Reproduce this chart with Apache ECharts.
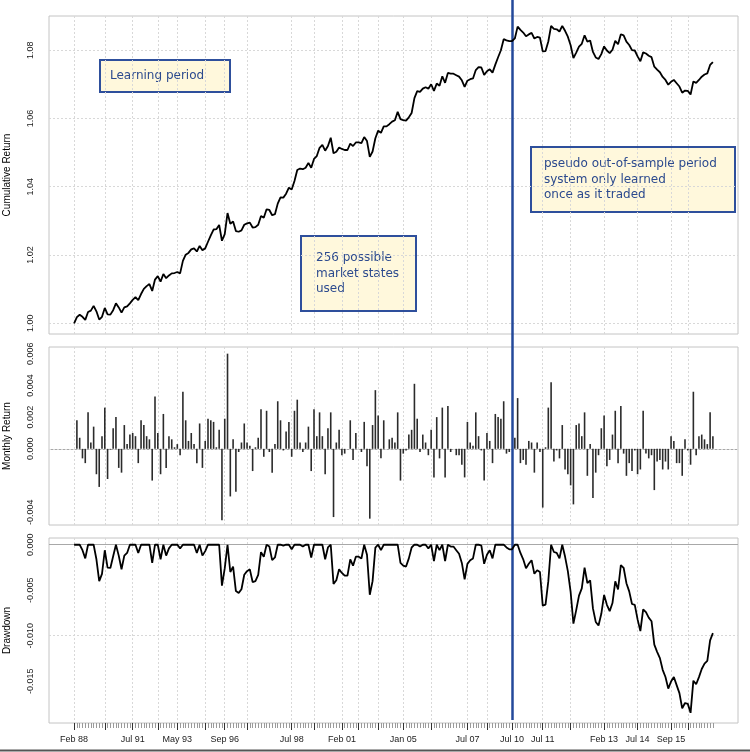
<!DOCTYPE html>
<html><head><meta charset="utf-8">
<script src="https://cdn.jsdelivr.net/npm/echarts@6/dist/echarts.min.js"></script>
<style>html,body{margin:0;padding:0;background:#fff}#c{width:750px;height:752px}</style>
</head><body><div id="c"></div>
<script>
// ---- data ----
const startWealth = 1.0; // wealth index value before the first monthly return (Feb 88)
const monthlyReturns = [
 0.0018,0.0007,-0.0006,-0.0009,0.0023,0.0004,0.0014,-0.0016,-0.0024,0.0008,
 0.0026,-0.0019,-0.00005,0.0013,0.0020,-0.0012,-0.0015,0.0015,0.0003,0.0009,
 0.0010,0.0008,-0.0009,0.0018,0.0015,0.0008,0.0006,-0.0020,0.0033,0.0010,
 -0.0016,0.0022,-0.0012,0.0008,0.0006,0.0001,0.0003,-0.0004,0.0036,0.0018,
 0.0005,0.0010,0.0003,-0.0009,0.0016,-0.0012,0.0005,0.0019,0.0018,0.0017,
 0.0001,0.0012,-0.0045,0.0019,0.0060,-0.0030,0.0006,-0.0027,-0.0002,0.0004,
 0.0016,0.0004,0.0002,-0.0014,0.0001,0.0007,0.0025,-0.0005,0.0024,-0.0002,
 -0.0015,0.0003,0.0030,0.0018,-0.0001,0.0011,0.0017,-0.0005,0.0024,0.0031,
 0.0004,-0.0002,0.0004,0.0014,-0.0014,0.0025,0.0008,0.0023,0.0008,-0.0016,
 0.0013,0.0023,-0.0043,0.0004,0.0012,-0.0004,-0.0003,0.0000,0.0018,-0.0007,
 0.0010,0.0000,-0.0002,0.0017,-0.0011,-0.0044,0.0015,0.0037,0.0021,
 -0.0006,0.0018,0.0000,0.0006,0.0007,0.0004,0.0023,-0.0020,-0.0003,-0.0001,
 0.0009,0.0012,0.0041,0.0019,-0.0002,0.0009,0.0004,-0.0004,0.0012,-0.0018,
 0.0020,-0.0006,0.0026,-0.0018,0.0027,-0.0002,0.0000,-0.0004,-0.0004,-0.0010,
 -0.0018,0.0017,0.0004,0.0002,0.0023,0.0008,-0.0001,-0.0020,0.0010,0.0005,
 -0.0009,0.0022,0.0020,0.0019,0.0030,-0.0003,-0.0002,0.0000,0.0007,0.0032,
 -0.0009,-0.0007,-0.0010,0.0005,0.0004,-0.0015,0.0004,-0.0002,-0.0037,0.0001,
 0.0026,0.0042,-0.0008,-0.0001,-0.0006,0.0015,-0.0013,-0.0016,-0.0023,-0.0035,
 0.0015,0.0016,0.0008,0.0023,-0.0017,0.0003,-0.0031,-0.0015,-0.0004,0.0013,
 0.0021,-0.0011,-0.0007,0.0009,0.0024,-0.0009,0.0027,-0.0003,-0.0017,-0.0009,
 -0.0014,-0.0001,-0.0016,-0.0013,0.0024,-0.0003,-0.0006,-0.0004,-0.0026,-0.0008,
 -0.0007,-0.0013,-0.0008,-0.0013,0.0008,0.0005,-0.0009,-0.0009,-0.0017,0.0006,
 -0.0001,-0.0010,0.0036,-0.0004,0.0008,0.0009,0.0006,0.0003,0.0023,0.0008
];
// observation positions (0 = Feb 88 start point) of the date ticks
const tickLabels = ['Feb 88','Jul 91','May 93','Sep 96','Jul 98','Feb 01','Jan 05','Jul 07','Jul 10','Jul 11','Feb 13','Jul 14','Sep 15'];
const tickObs    = [0,21,37,54,78,96,118,141,157,168,190,202,214];
const unlabeledMajorObs = [11,30,47,62,86,102,109,128,148,178,220];
const splitObs = 157; // Jul 10, start of out-of-sample period
const cumTicks = [1.00,1.02,1.04,1.06,1.08];
const retGrid = [-0.004,-0.002,0,0.002,0.004,0.006];
const retLabels = [-0.004,0,0.002,0.004,0.006];
const ddTicks = [-0.015,-0.010,-0.005,0];
const notes = [
  ['Learning period'],
  ['256 possible','market states','used'],
  ['pseudo out-of-sample period','system only learned','once as it traded']
];

// ---- derived series (wealth index and drawdown from the returns) ----
const cum = [startWealth], dd = [0], bars = [null];
let w = startWealth, pk = startWealth;
monthlyReturns.forEach(r => { w *= (1 + r); pk = Math.max(pk, w); cum.push(w); dd.push(w / pk - 1); bars.push(r); });
const NOBS = cum.length;

const PAD = 9;
const cats = [];
for (let i = 0; i < PAD; i++) cats.push('L' + i);
for (let i = 0; i < NOBS; i++) cats.push('o' + i);
for (let i = 0; i < PAD; i++) cats.push('R' + i);
const pad = Array(PAD).fill(null);
const labelMap = {}; tickObs.forEach((o, k) => labelMap[o] = tickLabels[k]);
const majorSet = new Set(tickObs.concat(unlabeledMajorObs));
const isObs = i => i >= PAD && i < PAD + NOBS;
const isMajor = i => isObs(i) && majorSet.has(i - PAD);

const GL = 49, GR = 12;
const grids = [
  {left: GL, right: GR, top: 16, height: 318},
  {left: GL, right: GR, top: 347, height: 178},
  {left: GL, right: GR, top: 538, height: 185},
  {left: GL, right: GR, top: 0, height: 720}
].map((g, k) => Object.assign({show: k < 3, borderColor: '#c4c4c4', borderWidth: 1, backgroundColor: 'transparent',
  containLabel: false, outerBoundsMode: 'none'}, g));

const gridLineStyle = {color: '#d8d8d8', type: [2, 2], width: 1};
function baseX(gi) {
  return {type: 'category', gridIndex: gi, data: cats, boundaryGap: false,
    axisLine: {show: false}, axisTick: {show: false}, axisLabel: {show: false},
    splitLine: {show: gi < 3, interval: (i) => isMajor(i), lineStyle: gridLineStyle}};
}
const xAxes = [baseX(0), baseX(1), baseX(2), Object.assign(baseX(3), {show: false})];
xAxes.push({type: 'category', gridIndex: 2, data: cats, boundaryGap: false, position: 'bottom',
  axisLine: {show: false}, splitLine: {show: false}, axisLabel: {show: false},
  axisTick: {show: true, length: 5, interval: (i) => isObs(i), lineStyle: {color: '#9a9a9a', width: 1}}});
xAxes.push({type: 'category', gridIndex: 2, data: cats, boundaryGap: false, position: 'bottom',
  axisLine: {show: false}, splitLine: {show: false},
  axisTick: {show: true, length: 7, interval: (i) => isMajor(i), lineStyle: {color: '#333', width: 1}},
  axisLabel: {show: true, interval: (i) => isObs(i) && labelMap[i - PAD] !== undefined,
    formatter: (v) => { const o = +v.slice(1); return v[0] === 'o' && labelMap[o] !== undefined ? labelMap[o] : ''; },
    fontSize: 9, color: '#222', margin: 12, fontFamily: 'Liberation Sans'}});

function yAx(gi, min, max, labels, digits, name) {
  return {type: 'value', gridIndex: gi, min: min, max: max, scale: true,
    name: name, nameLocation: 'middle', nameGap: 37, nameRotate: 90,
    nameTextStyle: {fontSize: 10, color: '#000', fontFamily: 'Liberation Sans'},
    axisLine: {show: false}, splitLine: {show: false},
    axisTick: {show: false, customValues: labels},
    axisLabel: {customValues: labels, rotate: 90, fontSize: 9, color: '#222', margin: 14,
      fontFamily: 'Liberation Sans', formatter: (v) => Number(v).toFixed(digits)}};
}
const yAxes = [
  yAx(0, 0.99686, 1.0900, cumTicks, 2, 'Cumulative Return'),
  yAx(1, -0.0048, 0.00642, retLabels, 3, 'Monthly Return'),
  yAx(2, -0.0196, 0.00074, ddTicks, 3, 'Drawdown'),
  {type: 'value', gridIndex: 3, min: 0, max: 1, show: false}
];

function gridMarks(vals, zeroLine) {
  const data = vals.map(v => ({yAxis: v, lineStyle: (zeroLine && v === 0) ? {color: '#a8a8a8', type: 'solid', width: 1} : gridLineStyle}));
  return {silent: true, symbol: ['none', 'none'], label: {show: false}, animation: false, data: data};
}

const series = [
  {type: 'line', xAxisIndex: 0, yAxisIndex: 0, data: pad.concat(cum, pad), showSymbol: false, symbol: 'none',
   lineStyle: {color: '#000', width: 1.8}, z: 5, markLine: gridMarks(cumTicks, false)},
  {type: 'bar', xAxisIndex: 1, yAxisIndex: 1, data: pad.concat(bars, pad), barWidth: 1.6,
   itemStyle: {color: '#2b2b2b'}, z: 5, markLine: gridMarks(retGrid, true)},
  {type: 'line', xAxisIndex: 2, yAxisIndex: 2, data: pad.concat(dd, pad), showSymbol: false, symbol: 'none',
   lineStyle: {color: '#000', width: 1.8}, z: 5, markLine: gridMarks(ddTicks, true)},
  {type: 'line', xAxisIndex: 3, yAxisIndex: 3, data: [], z: 20,
   markLine: {silent: true, symbol: ['none', 'none'], label: {show: false}, animation: false,
     lineStyle: {color: '#23499a', width: 2.5, type: 'solid'}, data: [{xAxis: 'o' + splitObs}]}}
];

function noteBox(x, y, w, h, tx, lines) {
  return {type: 'group', z: 30, children: [
    {type: 'rect', shape: {x: x, y: y, width: w, height: h}, style: {fill: '#fff8dc', stroke: '#2e4f9c', lineWidth: 2}},
    {type: 'text', x: tx, y: y + h / 2, style: {text: lines.join('\n'), fill: '#2c4a8e', font: '12px "DejaVu Sans"', lineHeight: 15.5, verticalAlign: 'middle', align: 'left'}}
  ]};
}

const chart = echarts.init(document.getElementById('c'), null, {renderer: 'canvas'});
chart.setOption({
  animation: false,
  textStyle: {fontFamily: 'Liberation Sans'},
  grid: grids, xAxis: xAxes, yAxis: yAxes, series: series,
  graphic: [
    noteBox(100, 60, 130, 32, 110, notes[0]),
    noteBox(301, 236, 115, 75, 316, notes[1]),
    noteBox(531, 147, 204, 65, 544, notes[2]),
    {type: 'rect', z: 30, shape: {x: 0, y: 749.5, width: 750, height: 2}, style: {fill: '#555'}}
  ]
});
</script></body></html>
